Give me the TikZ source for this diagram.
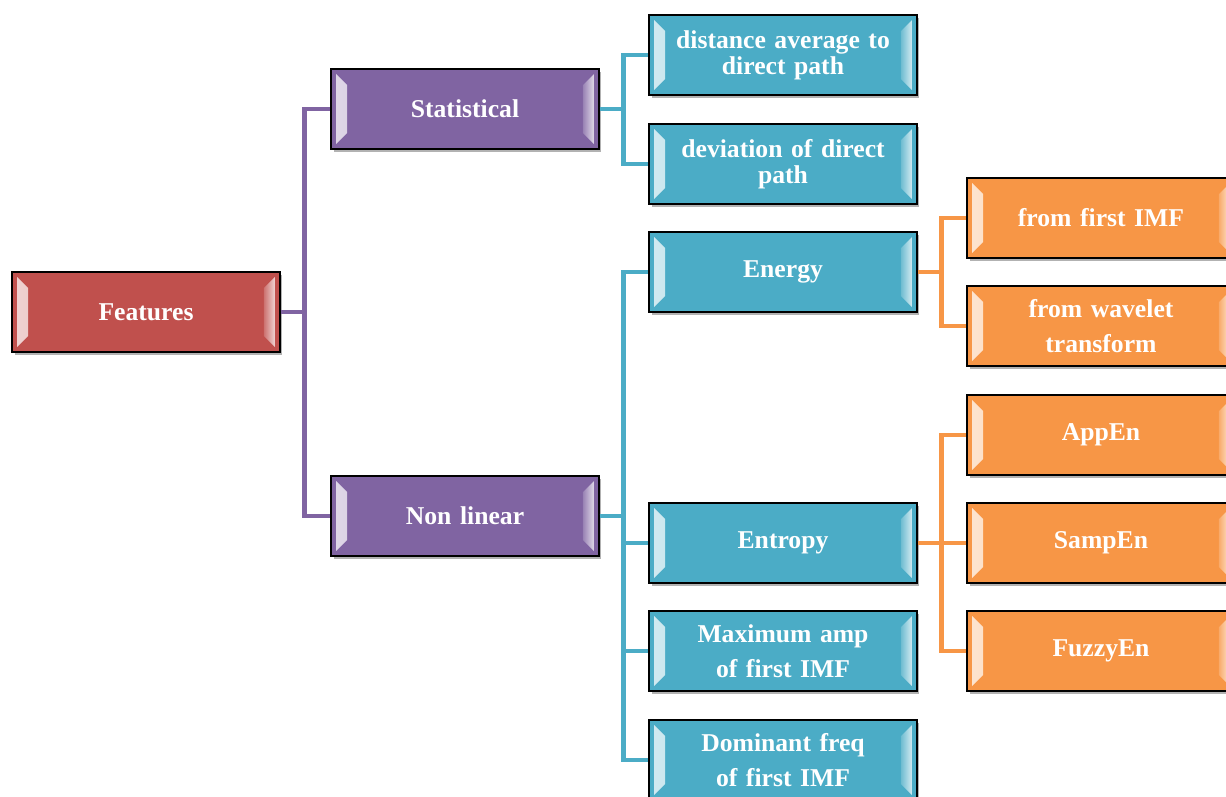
\documentclass[tikz,border=0pt]{standalone}
\usepackage{fontspec}
\setmainfont{Liberation Serif}
\usetikzlibrary{positioning,calc,shadows}
\definecolor{rootred}{HTML}{C0504D}
\definecolor{grouppurple}{HTML}{8064A2}
\definecolor{featteal}{HTML}{4BACC6}
\definecolor{subfeatorange}{HTML}{F79646}

\begin{document}
\begin{tikzpicture}[x=0.02cm,y=-0.02cm,
    box/.style={draw=black,line width=0.9pt,fill=#1,minimum width=5.36cm,minimum height=1.6cm,
                text width=5cm,align=center,inner sep=0pt,text=white,
                font=\fontsize{14.6}{20}\selectfont\bfseries,
                drop shadow={opacity=0.3,shadow xshift=0.05cm,shadow yshift=-0.06cm,fill=black},
                path picture={
                  \shade[left color=white!75!#1,right color=white!20!#1]
                    ($(path picture bounding box.south west)+(0.1cm,0.1cm)$) --
                    ($(path picture bounding box.north west)+(0.1cm,-0.1cm)$) --
                    ($(path picture bounding box.north west)+(0.32cm,-0.32cm)$) --
                    ($(path picture bounding box.south west)+(0.32cm,0.32cm)$) -- cycle;
                  \shade[right color=white!75!#1,left color=white!20!#1]
                    ($(path picture bounding box.south east)+(-0.1cm,0.1cm)$) --
                    ($(path picture bounding box.north east)+(-0.1cm,-0.1cm)$) --
                    ($(path picture bounding box.north east)+(-0.32cm,-0.32cm)$) --
                    ($(path picture bounding box.south east)+(-0.32cm,0.32cm)$) -- cycle;
                }},
    tight/.style={font=\fontsize{14.6}{14.8}\selectfont\bfseries},
    link/.style={line width=2.7pt,draw=#1}]
  \clip (0,0) rectangle (1226,796);

  % root and groups
  \node[box=rootred]     (features) at (146,312) {Features};
  \node[box=grouppurple] (stat)     at (465,109) {Statistical};
  \node[box=grouppurple] (nonlin)   at (465,516) {Non linear};

  % features
  \node[box=featteal,tight] (distavg) at (783,55)  {distance average to\\direct path};
  \node[box=featteal,tight] (devpath) at (783,164) {deviation of direct\\path};
  \node[box=featteal] (energy)  at (783,272) {Energy};
  \node[box=featteal] (entropy) at (783,543) {Entropy};
  \node[box=featteal] (maxamp)  at (783,651) {Maximum amp\\of first IMF};
  \node[box=featteal] (domfreq) at (783,760) {Dominant freq\\of first IMF};

  % sub features
  \node[box=subfeatorange] (firstimf) at (1101,218) {from first IMF};
  \node[box=subfeatorange] (wavelet)  at (1101,326) {from wavelet\\transform};
  \node[box=subfeatorange] (appen)    at (1101,435) {AppEn};
  \node[box=subfeatorange] (sampen)   at (1101,543) {SampEn};
  \node[box=subfeatorange] (fuzzyen)  at (1101,651) {FuzzyEn};

  % connectors
  \foreach \t in {stat,nonlin}
    \draw[link=grouppurple] (features.east) -- ++(24,0) |- (\t.west);
  \foreach \t in {distavg,devpath}
    \draw[link=featteal] (stat.east) -- ++(24,0) |- (\t.west);
  \foreach \t in {energy,entropy,maxamp,domfreq}
    \draw[link=featteal] (nonlin.east) -- ++(24,0) |- (\t.west);
  \foreach \t in {firstimf,wavelet}
    \draw[link=subfeatorange] (energy.east) -- ++(24,0) |- (\t.west);
  \foreach \t in {appen,sampen,fuzzyen}
    \draw[link=subfeatorange] (entropy.east) -- ++(24,0) |- (\t.west);
\end{tikzpicture}
\end{document}
